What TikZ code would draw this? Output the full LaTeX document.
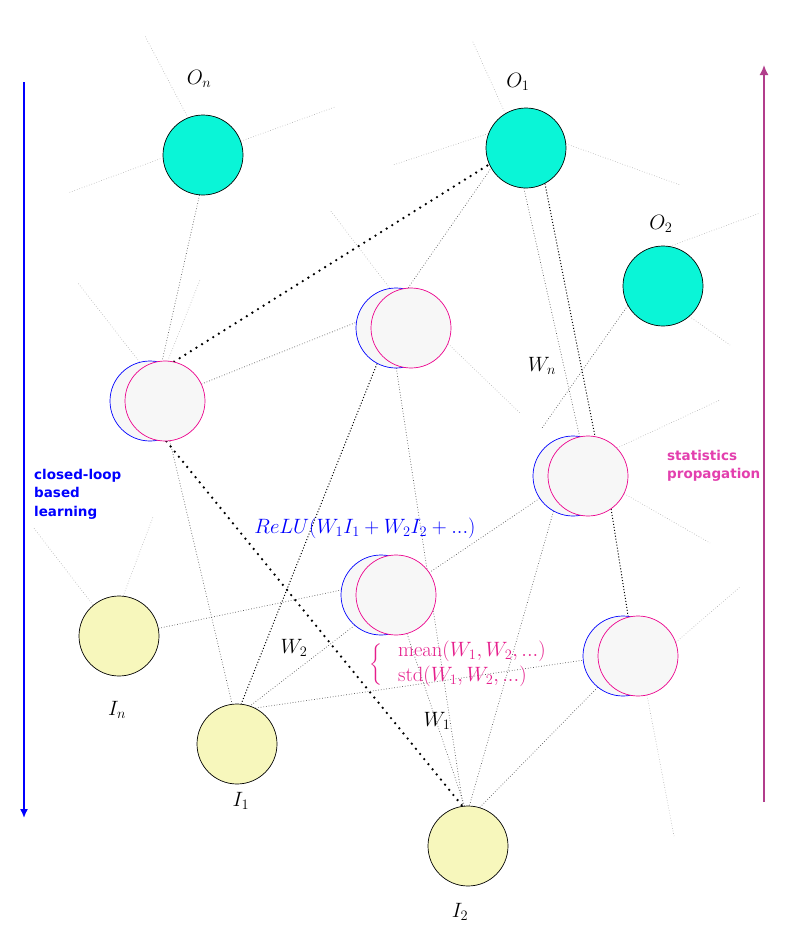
\documentclass[tikz,border=0pt]{standalone}
\usepackage{exscale}
\usepackage{fontspec}
\newfontfamily\labfont{DejaVu Sans}
\usetikzlibrary{arrows.meta}
\definecolor{cyanfill}{RGB}{10,245,215}
\definecolor{yellowfill}{RGB}{247,247,188}
\definecolor{hidfill}{RGB}{247,247,247}
\definecolor{arrowmag}{RGB}{178,62,140}
\definecolor{statpink}{RGB}{227,63,174}
\definecolor{bracepink}{RGB}{230,30,140}
\pgfdeclarelayer{background}
\pgfsetlayers{background,main}
\begin{document}
\begin{tikzpicture}[x=1pt,y=-1pt,
  neuron/.style={circle,draw=black,line width=0.7pt,minimum size=80pt,inner sep=0pt},
  outn/.style={neuron,fill=cyanfill},
  inn/.style={neuron,fill=yellowfill},
  hidb/.style={neuron,draw=blue,fill=hidfill},
  hidm/.style={neuron,draw=magenta,fill=hidfill},
  stub/.style={draw=black!32,dotted,line width=0.6pt},
  conn/.style={draw=black!65,dotted,line width=0.7pt},
  darkconn/.style={draw=black,dotted,line width=1pt},
  boldconn/.style={draw=black,line width=2.6pt,line cap=round,dash pattern=on 0pt off 6.6pt},
  lab/.style={font=\fontsize{20.6}{25}\selectfont,inner sep=0pt},
  sidetext/.style={font=\labfont\bfseries\fontsize{13.5}{18.5}\selectfont,align=left,inner sep=0pt,anchor=north west},
]
\useasboundingbox (0,0) rectangle (791,943);

% output neurons
\node[outn] (on) at (203,155) {};
\node[outn] (o1) at (526,148) {};
\node[outn] (o2) at (663,286) {};
% hidden neurons
\node[hidb] (h1b) at (150,401) {};
\node[hidm] (h1)  at (165,401) {};
\node[hidb] (h2b) at (396,328) {};
\node[hidm] (h2)  at (411,328) {};
\node[hidb] (h3b) at (573,476) {};
\node[hidm] (h3)  at (588,476) {};
\node[hidb] (h4b) at (381,595) {};
\node[hidm] (h4)  at (396,595) {};
\node[hidb] (h5b) at (623,656) {};
\node[hidm] (h5)  at (638,656) {};
% input neurons
\node[inn] (in) at (119,636) {};
\node[inn] (i1) at (237,744) {};
\node[inn] (i2) at (468,846) {};

% stub end points
\coordinate (s1) at (145,36);
\coordinate (s2) at (335,107);
\coordinate (s3) at (68,193);
\coordinate (s4) at (472,40);
\coordinate (s5) at (393,165);
\coordinate (s6) at (680,185);
\coordinate (s7) at (760,213);
\coordinate (s8) at (730,345);
\coordinate (s9) at (542,428);
\coordinate (s10) at (78,283);
\coordinate (s11) at (200,280);
\coordinate (s12) at (330,210);
\coordinate (s13) at (520,413);
\coordinate (s14) at (720,400);
\coordinate (s15) at (710,543);
\coordinate (s16) at (740,587);
\coordinate (s17) at (674,836);
\coordinate (s18) at (33,527);
\coordinate (s19) at (153,517);

\begin{pgfonlayer}{background}
\fill[white] (0,0) rectangle (791,943);
% light stubs
\draw[stub] (on.112) -- (s1);
\draw[stub] (on.20) -- (s2);
\draw[stub] (on.184) -- (s3);
\draw[stub] (o1.121) -- (s4);
\draw[stub] (o1.159) -- (s5);
\draw[stub] (o1.6) -- (s6);
\draw[stub] (o2.80) -- (s7);
\draw[stub] (o2.-49) -- (s8);
\draw[conn] (o2.209) -- (s9);
\draw[stub] (h1b.105) -- (s10);
\draw[stub] (h1.86) -- (s11);
\draw[stub] (h2b.99) -- (s12);
\draw[stub] (h2.-23) -- (s13);
\draw[stub] (h3.44) -- (s14);
\draw[stub] (h3.-26) -- (s15);
\draw[stub] (h5.20) -- (s16);
\draw[stub] (h5.-77) -- (s17);
\draw[stub] (in.130) -- (s18);
\draw[stub] (in.84) -- (s19);

% connections
\draw[conn] (on.-95) -- (h1.94);
\draw[boldconn] (h1.77) -- (o1.204);
\draw[conn] (h1.25) -- (h2b.172);
\draw[conn] (h1.-83) -- (i1.97);
\draw[boldconn] (h1.-88) -- (i2.98);
\draw[conn] (h2.94) -- (o1.210);
\draw[darkconn] (h2b.-118) -- (i1.84);
\draw[conn] (h2.-112) -- (i2.97);
\draw[conn] (o1.-93) -- (h3.102);
\draw[darkconn] (o1.-62) -- (h3.80);
\draw[conn] (h3b) -- (h4);
\draw[darkconn] (h3.-55) -- (h5.104);
\draw[conn] (h3b.-119) -- (i2.88);
\draw[conn] (in.11) -- (h4b.173);
\draw[conn] (h4b.-131) -- (i1.71);
\draw[conn] (h4.-74) -- (i2.95);
\draw[conn] (i1.63) -- (h5b.186);
\draw[conn] (h5b.-129) -- (i2.73);
\end{pgfonlayer}

% labels
\node[lab] (lon) at (199,79) {$O_n$};
\node[lab] (lo1) at (518,82) {$O_1$};
\node[lab] (lo2) at (661,224) {$O_2$};
\node[lab] (lwn) at (542,366) {$W_n$};
\node[lab] (lw2) at (294,648) {$W_2$};
\node[lab] (lw1) at (437,721) {$W_1$};
\node[lab] (lin) at (117,710) {$I_n$};
\node[lab] (li1) at (241,801) {$I_1$};
\node[lab] (li2) at (460,912) {$I_2$};
\node[lab,text=blue] (relu) at (365,528) {$ReLU(W_1I_1+W_2I_2+...)$};
\node[text=bracepink,inner sep=0pt,font=\fontsize{18.7}{22}\selectfont] (brace) at (377,665)
  {$\left\{\vcenter{\hbox{\rule{0pt}{40pt}}}\right.$};
\node[lab,text=bracepink,anchor=west,align=left,font=\fontsize{20.6}{25}\selectfont] (stats) at (398,664)
  {$\mathrm{mean}(W_1,W_2,...)$\\$\mathrm{std}(W_1,W_2,...)$};

% side arrows and texts
\coordinate (ba1) at (24,82);
\coordinate (ba2) at (24,818);
\draw[blue,line width=1.6pt,-{Latex[length=9pt,width=8pt]}] (ba1) -- (ba2);
\coordinate (ma1) at (764,802);
\coordinate (ma2) at (764,65);
\draw[arrowmag,line width=1.6pt,-{Latex[length=10pt,width=9pt]}] (ma1) -- (ma2);
\node[sidetext,text=blue] (cl) at (34,469) {closed-loop\\based\\learning};
\node[sidetext,text=statpink] (sp) at (667,450) {statistics\\propagation};
\end{tikzpicture}
\end{document}
